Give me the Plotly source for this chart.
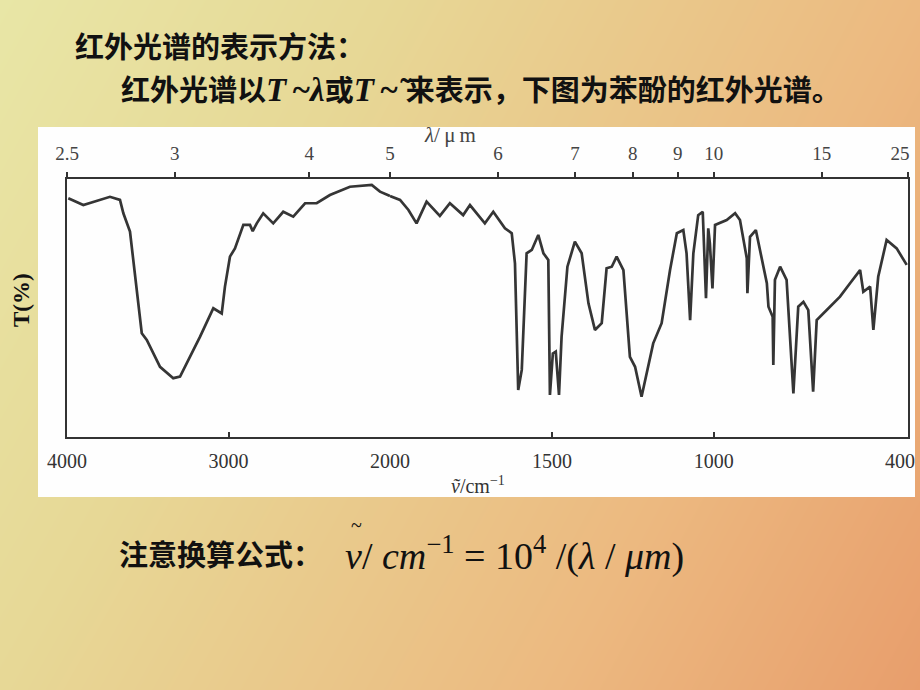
import plotly.graph_objects as go

W, H = 920, 690

# ---- data (phenol IR spectrum) ----
wavenumber = [3992, 3899, 3734, 3672, 3651, 3610, 3537, 3506, 3424, 3342,
              3300, 3176, 3094, 3042, 3022, 2991, 2960, 2908, 2867, 2850,
              2825, 2785, 2723, 2661, 2599, 2526, 2454, 2372, 2248, 2113,
              2062, 2000, 1969, 1943, 1918, 1887, 1846, 1815, 1774, 1753,
              1707, 1681, 1645, 1624, 1614, 1604, 1593, 1578, 1562, 1542,
              1526, 1511, 1506, 1497, 1488, 1478, 1470, 1452, 1429, 1408,
              1387, 1367, 1346, 1331, 1315, 1300, 1279, 1259, 1243, 1223,
              1187, 1161, 1135, 1114, 1094, 1084, 1073, 1063, 1048, 1034,
              1029, 1024, 1017, 1012, 1004, 996, 960, 934, 919, 898,
              896, 888, 870, 852, 836, 831, 818, 816, 811, 795,
              775, 754, 739, 723, 708, 693, 682, 651, 610, 579,
              548, 538, 517, 507, 492, 466, 435, 404]
transmittance = [92.5, 89.9, 93.1, 91.9, 86.7, 79.6, 40.2, 37.6, 27.2, 22.8,
                 23.4, 38.9, 49.9, 47.9, 58.3, 69.9, 73.1, 82.2, 82.2, 79.8,
                 82.8, 86.7, 82.8, 87.3, 85.4, 90.6, 90.6, 93.8, 97.0, 97.7,
                 95.1, 93.4, 91.9, 88.0, 82.8, 91.2, 85.7, 90.6, 86.0, 89.9,
                 82.8, 87.3, 80.9, 79.0, 67.3, 18.2, 26.0, 71.2, 72.5, 78.3,
                 71.2, 68.6, 16.3, 32.4, 33.1, 16.3, 38.9, 66.0, 75.7, 71.2,
                 51.8, 41.5, 44.1, 65.4, 66.0, 69.9, 64.7, 31.1, 27.2, 15.6,
                 36.3, 44.1, 64.7, 79.0, 80.2, 71.2, 45.3, 71.2, 86.0, 87.3,
                 71.2, 53.8, 80.9, 75.1, 57.6, 82.2, 84.1, 86.7, 84.1, 69.3,
                 55.7, 77.6, 80.2, 69.9, 59.6, 50.5, 46.6, 27.9, 60.9, 66.0,
                 60.9, 16.9, 50.5, 52.4, 49.2, 17.6, 45.3, 49.2, 54.4, 59.6,
                 64.7, 56.3, 58.3, 41.5, 62.1, 76.4, 73.1, 66.7]

wn_ticks_left = [4000, 3000, 2000]
wn_ticks_right = [1500, 1000, 400]
wn_labels_left = ["4000", "3000", "2000"]
wn_labels_right = ["1500", "1000", ""]
wn_end_tick, wn_end_label = [400], ["400"]
lam_ticks_left = [2.5, 3, 4]
lam_ticks_right = [5, 6, 7, 8, 9, 10, 15, 25]
lam_labels_left = ["2.5", "3", "4"]
lam_labels_right = ["5", "6", "7", "8", "9", "10", "15", ""]
lam_end_tick, lam_end_label = [25], ["25"]


def px(x):
    return x / W


def py(y):
    return 1 - y / H


left_x = [w for w in wavenumber if w >= 2000]
left_y = [t for w, t in zip(wavenumber, transmittance) if w >= 2000]
right_x = [w for w in wavenumber if w <= 2000]
right_y = [t for w, t in zip(wavenumber, transmittance) if w <= 2000]

fig = go.Figure()

# background gradient (slide)
fig.add_trace(go.Heatmap(
    x=[0, 1], y=[0, 1], z=[[0.3, 1.0], [0.0, 0.72]],
    zsmooth="best", showscale=False, hoverinfo="skip",
    colorscale=[[0, "#e8e6a6"], [0.3, "#e7d896"], [0.72, "#ecb980"], [1, "#e89e6c"]],
    xaxis="x", yaxis="y"))
# white panel of the scanned figure
fig.add_trace(go.Scatter(
    x=[px(38), px(915), px(915), px(38), px(38)],
    y=[py(127), py(127), py(497), py(497), py(127)],
    fill="toself", fillcolor="#fefefe", mode="lines", line=dict(width=0),
    hoverinfo="skip", showlegend=False, xaxis="x", yaxis="y"))

line_style = dict(color="#353535", width=2.7)
fig.add_trace(go.Scatter(x=left_x, y=left_y, mode="lines", line=line_style,
                         showlegend=False, xaxis="x2", yaxis="y2"))
fig.add_trace(go.Scatter(x=right_x, y=right_y, mode="lines", line=line_style,
                         showlegend=False, xaxis="x3", yaxis="y3"))
# invisible carriers so the overlaid axes get drawn
for xa, ya, rng in [("x4", "y2", [4000, 2000]), ("x5", "y3", [2000, 400]),
                    ("x6", "y3", [2000, 400]), ("x7", "y3", [2000, 400])]:
    fig.add_trace(go.Scatter(x=rng, y=[None, None], mode="lines",
                             showlegend=False, hoverinfo="skip", xaxis=xa, yaxis=ya))

dom_y = [py(437), py(179)]
dom_left = [px(67), px(390)]
dom_right = [px(390), px(908)]
axis_line = dict(showline=True, linecolor="#333", linewidth=2, showgrid=False,
                 zeroline=False, automargin=False, ticklabeloverflow="allow")
tick_font = dict(family="Liberation Serif", size=20, color="#333")
top_font = dict(family="Liberation Serif", size=19, color="#444")

fig.update_layout(
    template="none",
    width=W, height=H, margin=dict(l=0, r=0, t=0, b=0, pad=0, autoexpand=False),
    paper_bgcolor="#e8d898", plot_bgcolor="rgba(0,0,0,0)", showlegend=False,
    xaxis=dict(domain=[0, 1], range=[0, 1], visible=False, fixedrange=True, automargin=False),
    yaxis=dict(domain=[0, 1], range=[0, 1], visible=False, fixedrange=True, automargin=False),
    xaxis2=dict(domain=dom_left, range=[4000, 2000], anchor="y2",
                tickvals=wn_ticks_left, ticktext=wn_labels_left,
                ticks="inside", ticklen=5, tickwidth=2, tickcolor="#333",
                ticklabelstandoff=5, tickfont=tick_font, **axis_line),
    xaxis3=dict(domain=dom_right, range=[2000, 400], anchor="y3",
                tickvals=wn_ticks_right, ticktext=wn_labels_right,
                ticks="inside", ticklen=5, tickwidth=2, tickcolor="#333",
                ticklabelstandoff=5, tickfont=tick_font, **axis_line),
    xaxis4=dict(overlaying="x2", side="top", anchor="y2", range=[4000, 2000],
                tickvals=[1e4 / v for v in lam_ticks_left], ticktext=lam_labels_left,
                ticks="outside", ticklen=5, tickwidth=2, tickcolor="#333",
                ticklabelstandoff=4, tickfont=top_font, **axis_line),
    xaxis5=dict(overlaying="x3", side="top", anchor="y3", range=[2000, 400],
                tickvals=[1e4 / v for v in lam_ticks_right], ticktext=lam_labels_right,
                ticks="outside", ticklen=5, tickwidth=2, tickcolor="#333",
                ticklabelstandoff=4, tickfont=top_font, **axis_line),
    # end labels shifted inwards, as in the printed spectrum
    xaxis6=dict(overlaying="x3", side="bottom", anchor="y3", range=[2000, 400],
                tickvals=wn_end_tick, ticktext=wn_end_label, ticks="",
                ticklabelshift=8, ticklabelstandoff=10, tickfont=tick_font,
                showline=False, showgrid=False, zeroline=False, automargin=False,
                ticklabeloverflow="allow"),
    xaxis7=dict(overlaying="x3", side="top", anchor="y3", range=[2000, 400],
                tickvals=[1e4 / v for v in lam_end_tick], ticktext=lam_end_label, ticks="",
                ticklabelshift=8, ticklabelstandoff=14, tickfont=top_font,
                showline=False, showgrid=False, zeroline=False, automargin=False,
                ticklabeloverflow="allow"),
    yaxis2=dict(domain=dom_y, range=[0, 100], anchor="x2", side="left",
                showticklabels=False, ticks="", **axis_line),
    yaxis3=dict(domain=dom_y, range=[0, 100], anchor="x3", side="right",
                showticklabels=False, ticks="", **axis_line),
)

cjk = "Noto Sans CJK SC"
serif_span = "<span style=\"font-family:'Liberation Serif';font-size:33px\">"
ann = [
    dict(x=px(73), y=py(45), text="<b>红外光谱的表示方法：</b>", xanchor="left",
         font=dict(family=cjk, size=29, color="#111")),
    dict(x=px(119), y=py(88),
         text="<b>红外光谱以" + serif_span + "<i>T</i>\u2009~<i>λ</i></span>或"
              + serif_span + "<i>T</i>\u2009~ ͂</span>来表示，下图为苯酚的红外光谱。</b>",
         xanchor="left", font=dict(family=cjk, size=29, color="#111")),
    dict(x=px(117), y=py(553), text="<b>注意换算公式：</b>", xanchor="left",
         font=dict(family=cjk, size=29, color="#111")),
    dict(x=px(343), y=py(553),
         text="<i>ν</i>/ <i>cm</i><sup>−1</sup> = 10<sup>4</sup> /(<i>λ</i> / <i>μm</i>)",
         xanchor="left", font=dict(family="Liberation Serif", size=38, color="#111")),
    dict(x=px(356), y=py(525), text="~",
         font=dict(family="Liberation Serif", size=20, color="#111")),
    dict(x=px(22), y=py(300), text="<b>T(%)</b>", textangle=-90,
         font=dict(family="Liberation Serif", size=23, color="#111")),
    dict(x=px(450), y=py(135), text="<i>λ</i>/\u2009μ\u2009m",
         font=dict(family="Liberation Serif", size=21, color="#444")),
    dict(x=px(478), y=py(485), text="<i>ṽ</i>/cm<sup>−1</sup>",
         font=dict(family="Liberation Serif", size=20, color="#333")),
]
for a in ann:
    a.update(xref="paper", yref="paper", showarrow=False)
    a.setdefault("xanchor", "center")
    a.setdefault("yanchor", "middle")
fig.update_layout(annotations=ann)

fig.write_html("out.html", config={"displayModeBar": False, "staticPlot": True},
               post_script="document.body.style.margin='0px';document.body.style.overflow='hidden';")
